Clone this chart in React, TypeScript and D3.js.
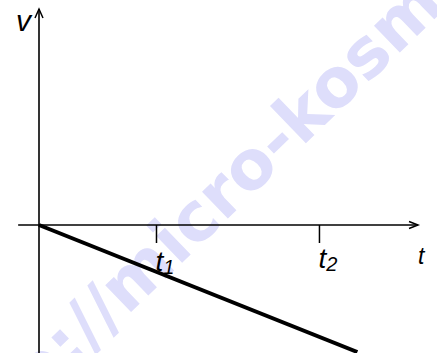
import React from "react";
import * as d3 from "d3";

// v(t) graph: straight line, negative slope, from origin
const lineT = [0, 8.4];
const lineV = [0, -5.08];
const tickT = [3.1, 7.4];
const tickLabels = ["1", "2"];
const axisT = [-0.55, 10];
const axisV = [-5.12, 8.64];

const W = 437;
const H = 353;

export default function App() {
  const x = d3.scaleLinear().domain([0, 10]).range([39, 418]);
  const y = d3.scaleLinear().domain([0, 1]).range([225, 200]);

  const line = d3
    .line<number>()
    .x((d) => x(lineT[d]))
    .y((d) => y(lineV[d]));

  const x0 = x(0);
  const y0 = y(0);
  const xEnd = x(axisT[1]);
  const yTop = y(axisV[1]);

  return (
    <svg
      width={W}
      height={H}
      style={{ position: "absolute", left: 0, top: 0, background: "#fff" }}
      fontFamily="Arial, 'Liberation Sans', sans-serif"
    >
      {/* watermark */}
      <g
        transform="translate(127,316) rotate(-44)"
        fill="#dedefb"
        fontFamily="'DejaVu Sans', sans-serif"
        fontWeight="bold"
        fontSize={68}
      >
        <text textAnchor="end">http://</text>
        <text textAnchor="start">micro-kosmos.uz</text>
      </g>

      {/* axes */}
      <line x1={x(axisT[0])} x2={xEnd} y1={y0} y2={y0} stroke="#000" strokeWidth={1.6} />
      <line x1={x0} x2={x0} y1={y(axisV[0])} y2={yTop} stroke="#000" strokeWidth={1.6} />
      <path
        d={`M${xEnd - 9},${y0 - 3.5}L${xEnd},${y0}L${xEnd - 9},${y0 + 3.5}`}
        fill="none"
        stroke="#000"
        strokeWidth={1.5}
      />
      <path
        d={`M${x0 - 4},${yTop + 9}L${x0},${yTop}L${x0 + 4},${yTop + 9}`}
        fill="none"
        stroke="#000"
        strokeWidth={1.5}
      />

      {/* ticks */}
      {tickT.map((t, i) => (
        <g key={i}>
          <line x1={x(t)} x2={x(t)} y1={y0} y2={y0 + 18} stroke="#000" strokeWidth={1.5} />
          <text x={x(t) - 1} y={i === 0 ? 271 : 268} fontStyle="italic" fontSize={28}>
            t
            <tspan fontSize={20} dy={3}>
              {tickLabels[i]}
            </tspan>
          </text>
        </g>
      ))}

      {/* data line */}
      <path d={line([0, 1]) ?? ""} fill="none" stroke="#000" strokeWidth={4} />

      {/* axis labels */}
      <text x={16} y={31} fontStyle="italic" fontSize={30}>
        v
      </text>
      <text x={418} y={264} fontStyle="italic" fontSize={23}>
        t
      </text>
    </svg>
  );
}
